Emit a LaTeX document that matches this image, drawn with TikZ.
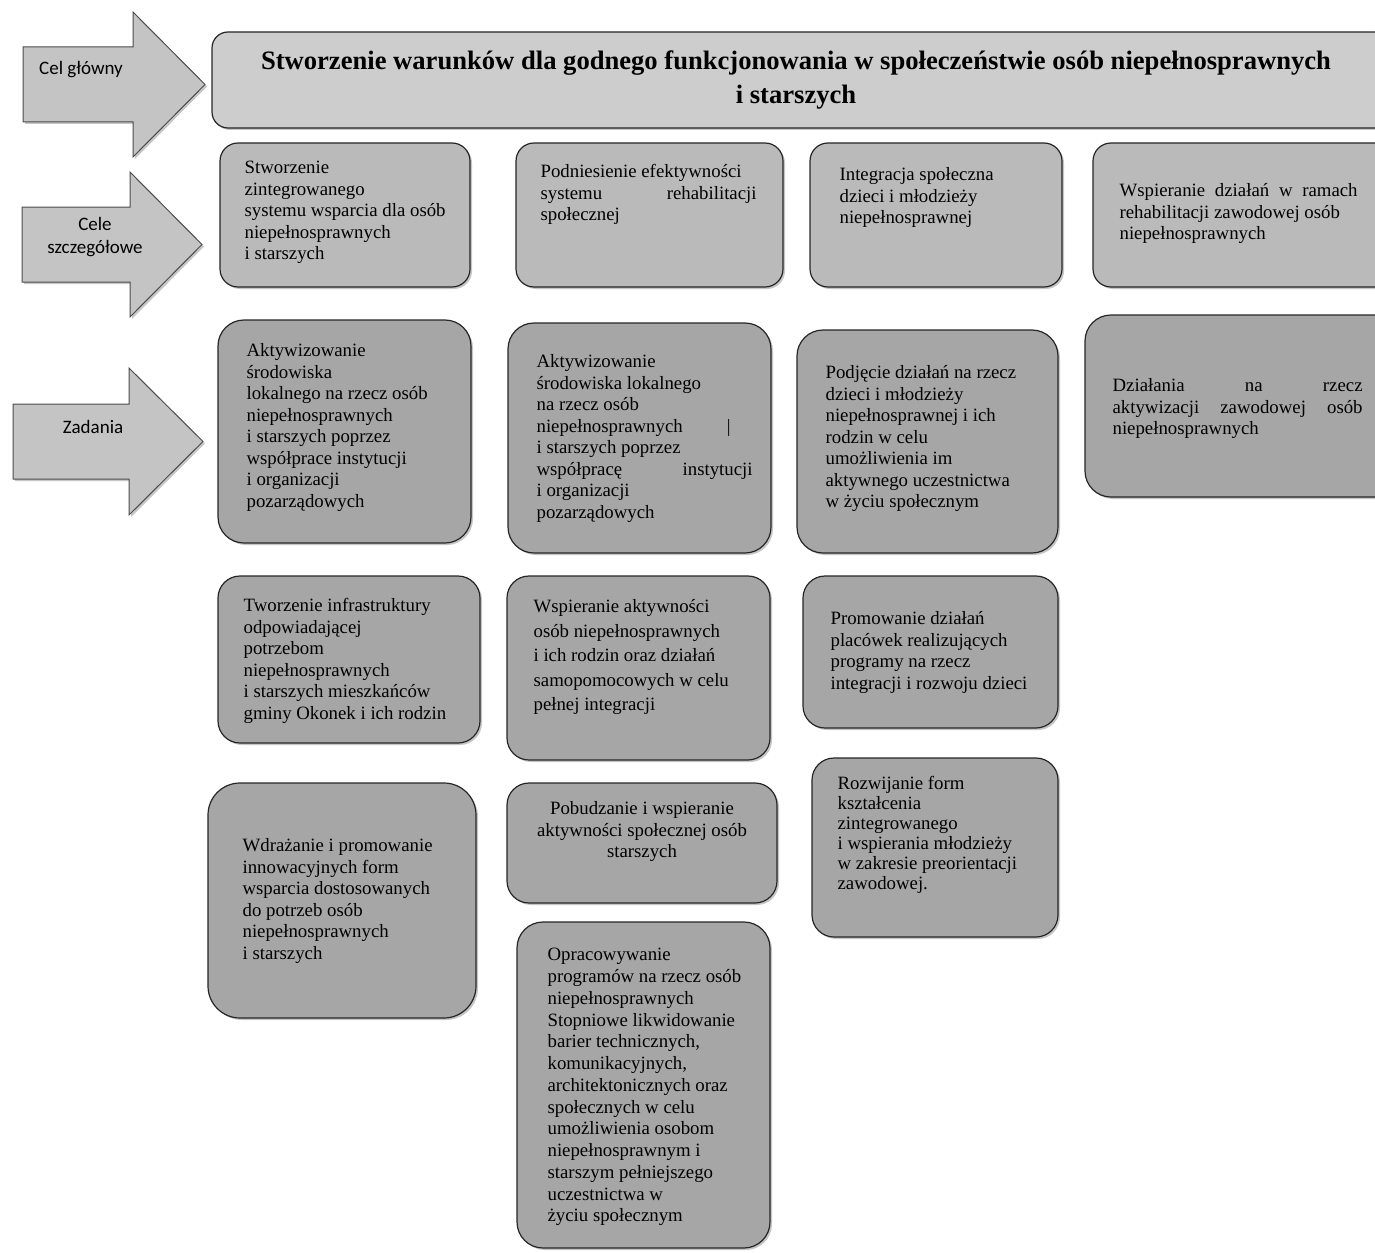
\documentclass[tikz,border=0pt]{standalone}
\usepackage{fontspec}
\setmainfont{Liberation Serif}
\newfontfamily\strzalkafont{Carlito}
\usetikzlibrary{positioning,shadows}
\definecolor{szaryglowny}{HTML}{CDCDCD}
\definecolor{szarycel}{HTML}{BABABA}
\definecolor{szaryzad}{HTML}{A6A6A6}
\definecolor{szarystrz}{HTML}{C4C4C4}
\newcommand\Rozciag[1]{\makebox[\linewidth][s]{#1}}
\tikzset{
	pole/.style = {
		draw = black!85,
		line width = 1.2pt,
		rectangle,
		drop shadow = {shadow xshift=2pt, shadow yshift=-2pt, opacity=.45}
	},
	glownybox/.style = {pole, fill = szaryglowny, rounded corners = 16pt},
	celbox/.style = {pole, fill = szarycel, rounded corners = 18pt},
	zadbox/.style = {pole, fill = szaryzad, rounded corners = 26pt},
	tekst/.style = {inner sep = 0pt, font = \fontsize{18.8}{21.5}\selectfont},
	strzalka/.style = {
		draw = black!70,
		line width = 1pt,
		fill = szarystrz,
		drop shadow = {shadow xshift=2pt, shadow yshift=-2pt, opacity=.45}
	},
	etykieta/.style = {inner sep = 0pt, align = center, font = \strzalkafont\fontsize{19}{23}\selectfont}
}

\begin{document}
\begin{tikzpicture}[x=1pt, y=-1pt]
    \useasboundingbox (0,0) rectangle (1375,1252);
    \clip (0,0) rectangle (1375,1252);

    % strzalki po lewej
    \filldraw [strzalka] (23,47) -- (133,47) -- (133,12) -- (205,84.5) -- (133,157) -- (133,122) -- (23,122) -- cycle;
    \filldraw [strzalka] (22,207) -- (130,207) -- (130,172) -- (202,244.5) -- (130,317) -- (130,282) -- (22,282) -- cycle;
    \filldraw [strzalka] (13,404) -- (129,404) -- (129,368) -- (203,441.5) -- (129,515) -- (129,479) -- (13,479) -- cycle;
    \node [etykieta] (celglowny) at (81,70) {Cel główny};
    \node [etykieta] (celeszcz) at (95,237) {Cele\\szczegółowe};
    \node [etykieta] (zadania) at (93,427) {Zadania};

    % cel glowny
    \node [glownybox, minimum width=1178pt, minimum height=96pt] (glowny) at (801,80) {};
    \node [font=\fontsize{26.6}{34}\selectfont\bfseries, align=center, inner sep=0pt] (tytul) at (796,80)
        {Stworzenie warunków dla godnego funkcjonowania w społeczeństwie osób niepełnosprawnych\\ i starszych};

    % cele szczegolowe
    \node [celbox, minimum width=250pt, minimum height=144pt] (a1box) at (345,215) {};
    \node [celbox, minimum width=267pt, minimum height=144pt] (a2box) at (649.5,215) {};
    \node [celbox, minimum width=252pt, minimum height=144pt] (a3box) at (936,215) {};
    \node [celbox, minimum width=302pt, minimum height=144pt] (a4box) at (1244,215) {};

    \node [tekst, below right=16pt and 25pt of a1box.north west] (a1) {\parbox[t]{210pt}{\raggedright\strut Stworzenie\\ zintegrowanego\\ systemu wsparcia dla osób\\ niepełnosprawnych\\ i starszych}};
    \node [tekst, below right=20pt and 25pt of a2box.north west] (a2) {\parbox[t]{216pt}{\raggedright\strut Podniesienie efektywności\\ \Rozciag{systemu rehabilitacji}\\ społecznej}};
    \node [tekst, below right=23pt and 30pt of a3box.north west] (a3) {\parbox[t]{210pt}{\raggedright\strut Integracja społeczna\\ dzieci i młodzieży\\ niepełnosprawnej}};
    \node [tekst, below right=39pt and 27pt of a4box.north west] (a4) {\parbox[t]{238pt}{\raggedright\strut\Rozciag{Wspieranie działań w ramach}\\ rehabilitacji zawodowej osób\\ niepełnosprawnych}};

    % zadania
    \node [zadbox, minimum width=253pt, minimum height=223pt] (b1box) at (344.5,431.5) {};
    \node [zadbox, minimum width=263pt, minimum height=230pt] (b2box) at (639.5,438) {};
    \node [zadbox, minimum width=261pt, minimum height=223pt] (b3box) at (927.5,441.5) {};
    \node [zadbox, minimum width=315pt, minimum height=182pt] (b4box) at (1242.5,406) {};
    \node [zadbox, rounded corners=22pt, minimum width=262pt, minimum height=167pt] (c1box) at (349,659.5) {};
    \node [zadbox, rounded corners=22pt, minimum width=263pt, minimum height=184pt] (c2box) at (638.5,668) {};
    \node [zadbox, rounded corners=22pt, minimum width=255pt, minimum height=152pt] (c3box) at (930.5,652) {};
    \node [zadbox, rounded corners=32pt, minimum width=268pt, minimum height=235pt] (d1box) at (342,900.5) {};
    \node [zadbox, rounded corners=22pt, minimum width=270pt, minimum height=120pt] (d2box) at (642,843) {};
    \node [zadbox, rounded corners=22pt, minimum width=246pt, minimum height=179pt] (d3box) at (935,847.5) {};
    \node [zadbox, minimum width=253pt, minimum height=326pt] (e2box) at (643.5,1085) {};

    \node [tekst, below right=22pt and 29pt of b1box.north west] (b1) {\parbox[t]{210pt}{\raggedright\strut Aktywizowanie\\ środowiska\\ lokalnego na rzecz osób\\ niepełnosprawnych\\ i starszych poprzez\\ współprace instytucji\\ i organizacji\\ pozarządowych}};
    \node [tekst, below right=30pt and 29pt of b2box.north west] (b2) {\parbox[t]{216pt}{\raggedright\strut Aktywizowanie\\ środowiska lokalnego\\ na rzecz osób\\ niepełnosprawnych\hspace*{44pt}|\\ i starszych poprzez\\ \Rozciag{współpracę instytucji}\\ i organizacji\\ pozarządowych}};
    \node [tekst, below right=34pt and 29pt of b3box.north west] (b3) {\parbox[t]{215pt}{\raggedright\strut Podjęcie działań na rzecz\\ dzieci i młodzieży\\ niepełnosprawnej i ich\\ rodzin w celu\\ umożliwienia im\\ aktywnego uczestnictwa\\ w życiu społecznym}};
    \node [tekst, below right=62pt and 28pt of b4box.north west] (b4) {\parbox[t]{250pt}{\raggedright\strut\Rozciag{Działania na rzecz}\\ \Rozciag{aktywizacji zawodowej osób}\\ niepełnosprawnych}};
    \node [tekst, below right=21pt and 26pt of c1box.north west] (c1) {\parbox[t]{215pt}{\raggedright\strut Tworzenie infrastruktury\\ odpowiadającej\\ potrzebom\\ niepełnosprawnych\\ i starszych mieszkańców\\ gminy Okonek i ich rodzin}};
    \node [tekst, font=\fontsize{18.8}{24.5}\selectfont, below right=20pt and 27pt of c2box.north west] (c2) {\parbox[t]{215pt}{\raggedright\strut Wspieranie aktywności\\ osób niepełnosprawnych\\ i ich rodzin oraz działań\\ samopomocowych w celu\\ pełnej integracji}};
    \node [tekst, below right=34pt and 28pt of c3box.north west] (c3) {\parbox[t]{215pt}{\raggedright\strut Promowanie działań\\ placówek realizujących\\ programy na rzecz\\ integracji i rozwoju dzieci}};
    \node [tekst, below right=54pt and 35pt of d1box.north west] (d1) {\parbox[t]{215pt}{\raggedright\strut Wdrażanie i promowanie\\ innowacyjnych form\\ wsparcia dostosowanych\\ do potrzeb osób\\ niepełnosprawnych\\ i starszych}};
    \node [tekst, below=17pt of d2box.north] (d2) {\parbox[t]{250pt}{\centering\strut Pobudzanie i wspieranie\\ aktywności społecznej osób\\ starszych}};
    \node [tekst, font=\fontsize{18.8}{20}\selectfont, below right=18pt and 26pt of d3box.north west] (d3) {\parbox[t]{215pt}{\raggedright\strut Rozwijanie form\\ kształcenia\\ zintegrowanego\\ i wspierania młodzieży\\ w zakresie preorientacji\\ zawodowej.}};
    \node [tekst, font=\fontsize{18.8}{21.75}\selectfont, below right=24pt and 31pt of e2box.north west] (e2) {\parbox[t]{215pt}{\raggedright\strut Opracowywanie\\ programów na rzecz osób\\ niepełnosprawnych\\ Stopniowe likwidowanie\\ barier technicznych,\\ komunikacyjnych,\\ architektonicznych oraz\\ społecznych w celu\\ umożliwienia osobom\\ niepełnosprawnym i\\ starszym pełniejszego\\ uczestnictwa w\\ życiu społecznym}};
\end{tikzpicture}
\end{document}
